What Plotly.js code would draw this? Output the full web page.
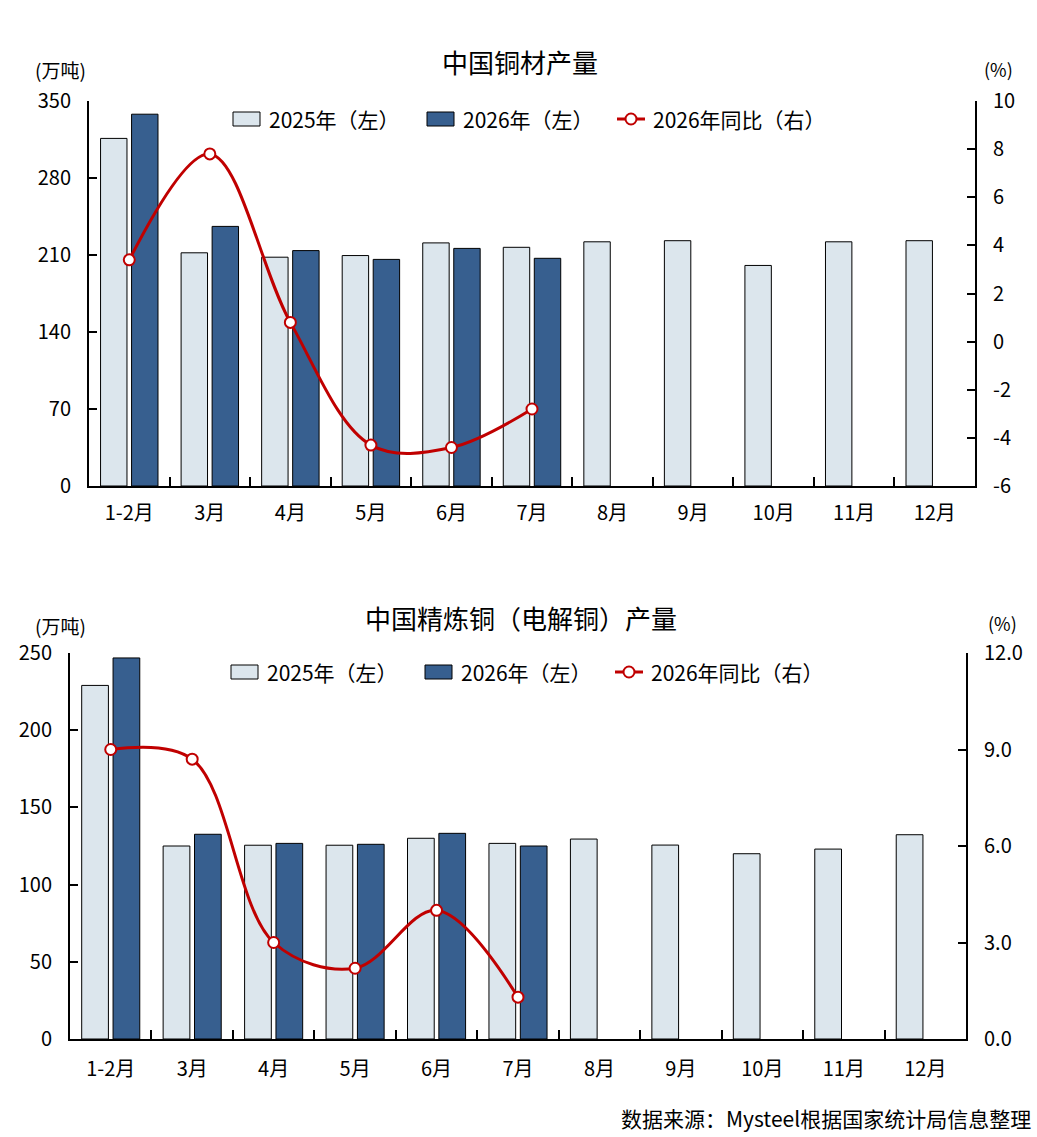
<!DOCTYPE html>
<html>
<head>
<meta charset="utf-8">
<script src="https://cdn.plot.ly/plotly-3.0.1.min.js"></script>
<style>
  html, body { margin: 0; padding: 0; background: #fff; }
  #chart { width: 1037px; height: 1137px; }
</style>
</head>
<body>
<div id="chart"></div>
<script>
// 月份
var months = ['1-2月', '3月', '4月', '5月', '6月', '7月', '8月', '9月', '10月', '11月', '12月'];

// 中国铜材产量（万吨）
var tube2025 = [316, 212, 208, 209.5, 221, 217, 222, 223, 200.5, 222, 223];
var tube2026 = [338, 236, 214, 206, 216, 207, null, null, null, null, null];
var tubeYoy = [3.4, 7.8, 0.8, -4.3, -4.4, -2.8, null, null, null, null, null];

// 中国精炼铜（电解铜）产量（万吨）
var cath2025 = [229, 125, 125.5, 125.5, 130, 126.7, 129.5, 125.6, 120, 123, 132.3];
var cath2026 = [246.8, 132.6, 126.7, 126.1, 133.2, 125, null, null, null, null, null];
var cathYoy = [9.0, 8.7, 3.0, 2.2, 4.0, 1.3, null, null, null, null, null];

var names = ['2025年（左）', '2026年（左）', '2026年同比（右）'];

// 右轴刻度
var tubeYoyTicks = [-6, -4, -2, 0, 2, 4, 6, 8, 10];
var cathYoyTicks = [0, 3, 6, 9, 12];

var FONT = 'Noto Sans CJK SC, Noto Sans, sans-serif';
var LIGHT = '#dce6ed';
var DARK = '#375f8f';
var RED = '#c00000';

function barTrace(y, color, name, xa, ya) {
  return {
    type: 'bar', x: months, y: y, name: name,
    xaxis: xa, yaxis: ya, showlegend: false,
    marker: { color: color, line: { color: '#000', width: 1 } },
    hoverinfo: 'x+y'
  };
}

function lineTrace(y, name, xa, ya) {
  return {
    type: 'scatter', mode: 'lines+markers', x: months, y: y, name: name,
    xaxis: xa, yaxis: ya, showlegend: false,
    line: { color: RED, width: 3, shape: 'spline', smoothing: 1 },
    marker: { symbol: 'circle', size: 11, color: '#fff', line: { color: RED, width: 2 } },
    connectgaps: false
  };
}

var data = [
  barTrace(tube2025, LIGHT, names[0], 'x', 'y'),
  barTrace(tube2026, DARK, names[1], 'x', 'y'),
  lineTrace(tubeYoy, names[2], 'x', 'y2'),
  barTrace(cath2025, LIGHT, names[0], 'x2', 'y3'),
  barTrace(cath2026, DARK, names[1], 'x2', 'y3'),
  lineTrace(cathYoy, names[2], 'x2', 'y4')
];

var W = 1037, H = 1137;
function px(v) { return v / W; }
function py(v) { return (H - v) / H; }

var tickFont = { family: FONT, size: 20, color: '#000' };

function xAxis(domain, anchor, standoff) {
  return {
    domain: domain, anchor: anchor, type: 'category', range: [-0.5, months.length - 0.5],
    showline: true, linecolor: '#000', linewidth: 2,
    ticks: 'inside', tickson: 'boundaries', ticklen: 9, tickwidth: 1.5, tickcolor: '#000',
    showgrid: false, zeroline: false, fixedrange: true,
    tickfont: tickFont, ticklabelstandoff: standoff
  };
}

function yAxis(domain, anchor, range, dtick, side, overlay) {
  var ax = {
    domain: domain, anchor: anchor, range: range, dtick: dtick, tick0: range[0],
    side: side, showline: true, linecolor: '#000', linewidth: 2,
    ticks: 'inside', ticklen: 8, tickwidth: 1.5, tickcolor: '#000',
    showgrid: false, zeroline: false, fixedrange: true,
    tickfont: tickFont, ticklabelstandoff: 12
  };
  if (overlay) ax.overlaying = overlay;
  return ax;
}

var topX = [px(89), px(975)];
var topY = [py(486), py(101)];
var botX = [px(70), px(966)];
var botY = [py(1039), py(653)];

var yaxis2 = yAxis(topY, 'x', [-6, 10], 2, 'right', 'y');
yaxis2.tickmode = 'array';
yaxis2.tickvals = tubeYoyTicks;
yaxis2.ticktext = tubeYoyTicks.map(function (v) { return String(v); });

var yaxis4 = yAxis(botY, 'x2', [0, 12], 3, 'right', 'y3');
yaxis4.tickmode = 'array';
yaxis4.tickvals = cathYoyTicks;
yaxis4.ticktext = cathYoyTicks.map(function (v) { return v.toFixed(1); });

function note(text, x, y, size, xanchor, weight) {
  return {
    text: text, x: x, y: y, xref: 'paper', yref: 'paper',
    xanchor: xanchor || 'center', yanchor: 'middle', showarrow: false,
    font: { family: FONT, size: size, color: '#000', weight: weight || 400 }
  };
}

// 图例（手工绘制色块与文字）
var shapes = [];
var notes = [];
function addLegend(x0, yc) {
  var items = [
    { kind: 'box', color: LIGHT, x: x0 },
    { kind: 'box', color: DARK, x: x0 + 194 },
    { kind: 'line', color: RED, x: x0 + 384 }
  ];
  items.forEach(function (it, i) {
    if (it.kind === 'box') {
      shapes.push({
        type: 'rect', xref: 'paper', yref: 'paper',
        x0: px(it.x), x1: px(it.x + 27), y0: py(yc + 7), y1: py(yc - 7),
        fillcolor: it.color, line: { color: '#000', width: 1 }
      });
    } else {
      shapes.push({
        type: 'line', xref: 'paper', yref: 'paper',
        x0: px(it.x), x1: px(it.x + 28), y0: py(yc), y1: py(yc),
        line: { color: RED, width: 3 }
      });
      shapes.push({
        type: 'circle', xref: 'paper', yref: 'paper',
        x0: px(it.x + 8.5), x1: px(it.x + 19.5), y0: py(yc + 5.5), y1: py(yc - 5.5),
        fillcolor: '#fff', line: { color: RED, width: 2 }
      });
    }
    notes.push(note(names[i], px(it.x + 34), py(yc), 21, 'left'));
  });
}
addLegend(233, 119);
addLegend(231, 672);

var layout = {
  width: W, height: H,
  margin: { l: 0, r: 0, t: 0, b: 0 },
  paper_bgcolor: '#fff', plot_bgcolor: 'rgba(0,0,0,0)',
  barmode: 'group', bargap: 0.23, bargroupgap: 0.148,
  font: { family: FONT, color: '#000' },
  showlegend: false,
  xaxis: xAxis(topX, 'y', 8),
  yaxis: yAxis(topY, 'x', [0, 350], 70, 'left'),
  yaxis2: yaxis2,
  xaxis2: xAxis(botX, 'y3', 11),
  yaxis3: yAxis(botY, 'x2', [0, 250], 50, 'left'),
  yaxis4: yaxis4,
  shapes: shapes,
  annotations: [
    note('中国铜材产量', px(520), py(62), 26),
    note('(万吨)', px(60), py(70), 19),
    note('(%)', px(998), py(69), 18),
    note('中国精炼铜（电解铜）产量', px(521), py(617), 26),
    note('(万吨)', px(60), py(625), 19),
    note('(%)', px(1002), py(623), 18),
    note('数据来源：Mysteel根据国家统计局信息整理', px(1033), py(1118), 21, 'right')
  ].concat(notes)
};

Plotly.newPlot('chart', data, layout, { displayModeBar: false });
</script>
</body>
</html>
